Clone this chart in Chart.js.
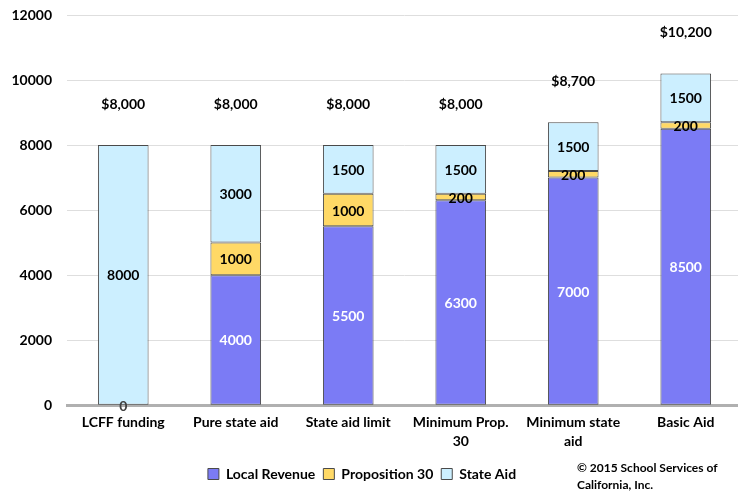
<!DOCTYPE html>
<html><head><meta charset="utf-8">
<script src="https://cdn.jsdelivr.net/npm/chart.js@4.4.0/dist/chart.umd.min.js"></script>
<style>
html,body{margin:0;padding:0;background:#fff;overflow:hidden;width:738px;height:491px}
#wrap{position:relative;width:742px;height:491px}
</style></head><body>
<div id="wrap"><canvas id="c" width="742" height="491"></canvas></div>
<script>
const categories = ['LCFF funding', 'Pure state aid', 'State aid limit', ['Minimum Prop.', '30'], ['Minimum state', 'aid'], 'Basic Aid'];
const localRevenue = [0, 4000, 5500, 6300, 7000, 8500];
const proposition30 = [0, 1000, 1000, 200, 200, 200];
const stateAid = [8000, 3000, 1500, 1500, 1500, 1500];
const totalLabels = ['$8,000', '$8,000', '$8,000', '$8,000', '$8,700', '$10,200'];
const yTicks = [0, 2000, 4000, 6000, 8000, 10000, 12000];
const seriesNames = ['Local Revenue', 'Proposition 30', 'State Aid'];

const FONT = 'Lato, "Open Sans", sans-serif';
const LEGEND_SHIFT = 9;

const labelPlugin = {
  id: 'labels',
  beforeDraw(chart) {
    const l = chart.legend;
    if (l) { l.left -= LEGEND_SHIFT; l.right -= LEGEND_SHIFT; }
  },
  afterDraw(chart) {
    const l = chart.legend;
    if (l) { l.left += LEGEND_SHIFT; l.right += LEGEND_SHIFT; }
    const ctx = chart.ctx;
    const x = chart.scales.x, y = chart.scales.y;
    ctx.save();
    ctx.textAlign = 'center';
    ctx.textBaseline = 'middle';
    ctx.font = 'bold 14px ' + FONT;
    chart.data.datasets.forEach((ds, di) => {
      const meta = chart.getDatasetMeta(di);
      meta.data.forEach((bar, i) => {
        const v = ds.data[i];
        if (v === 0 && di !== 0) return;
        let color = di === 0 ? '#ffffff' : '#000000';
        if (v === 0) color = '#404040';
        ctx.fillStyle = color;
        ctx.fillText(String(v), bar.x, (bar.y + bar.base) / 2 + 1);
      });
    });
    // totals
    ctx.fillStyle = '#000';
    categories.forEach((c, i) => {
      const t = localRevenue[i] + proposition30[i] + stateAid[i];
      ctx.fillText(totalLabels[i], x.getPixelForValue(i), y.getPixelForValue(t) - 41);
    });
    // copyright
    ctx.textAlign = 'left';
    ctx.font = 'bold 12px ' + FONT;
    ctx.fillText('\u00A9 2015 School Services of', 577, 468);
    ctx.fillText('California, Inc.', 577, 485);
    ctx.restore();
  }
};

new Chart(document.getElementById('c'), {
  type: 'bar',
  data: {
    labels: categories,
    datasets: [
      { label: seriesNames[0], data: localRevenue, backgroundColor: '#7B7BF5', borderColor: '#4a4a4a', borderWidth: 1, borderSkipped: false },
      { label: seriesNames[1], data: proposition30, backgroundColor: '#FFD966', borderColor: '#4a4a4a', borderWidth: 1, borderSkipped: false },
      { label: seriesNames[2], data: stateAid, backgroundColor: '#CCEFFF', borderColor: '#4a4a4a', borderWidth: 1, borderSkipped: false }
    ]
  },
  options: {
    responsive: false,
    animation: false,
    layout: { padding: { top: 15, right: 0, left: 0, bottom: 0 } },
    datasets: { bar: { categoryPercentage: 1, barPercentage: 0.45 } },
    plugins: {
      legend: {
        position: 'bottom',
        labels: {
          boxWidth: 11, boxHeight: 11, padding: 8, color: '#000',
          font: { family: FONT, size: 14, weight: 'bold' }
        }
      },
      tooltip: { enabled: false }
    },
    scales: {
      x: {
        stacked: true,
        grid: { display: false, drawTicks: false },
        border: { display: true, color: '#b0b0b0', width: 3 },
        ticks: { color: '#000', padding: 8, maxRotation: 0, autoSkip: false, font: { family: FONT, size: 14, weight: 'bold', lineHeight: 1.35 } }
      },
      y: {
        stacked: true,
        min: 0, max: 12000,
        afterFit(s) { s.width = 67; s.paddingTop = 0; s.paddingBottom = 0; },
        afterBuildTicks(s) { s.ticks = yTicks.map(v => ({ value: v })); },
        grid: { color: '#dedede', lineWidth: 1, drawTicks: false },
        border: { display: false },
        ticks: { color: '#000', padding: 15, callback: (v) => String(v), font: { family: FONT, size: 14, weight: 'bold' } }
      }
    }
  },
  plugins: [labelPlugin]
});
</script></body></html>
